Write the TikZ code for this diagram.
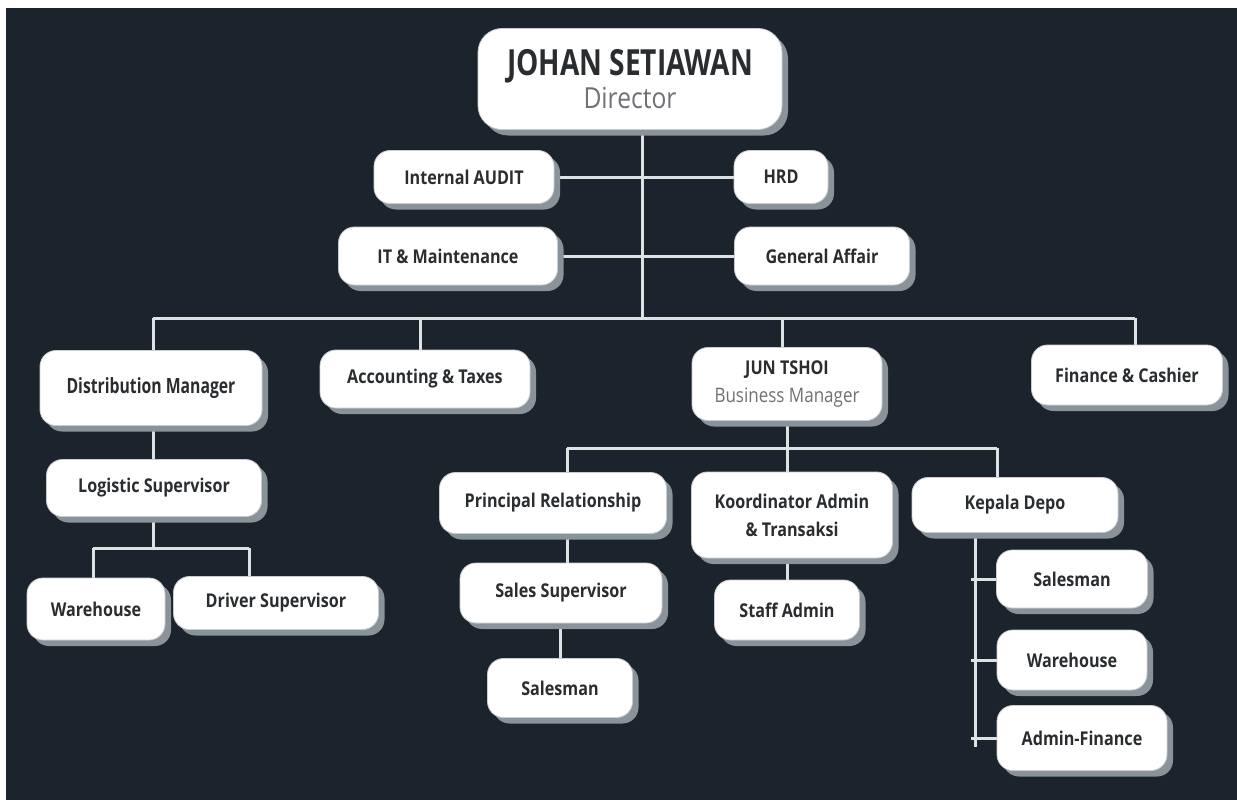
\documentclass[tikz,border=0pt]{standalone}
\usepackage{fontspec}
\usetikzlibrary{shadows}
\newfontfamily\lab[FakeStretch=0.85]{Open Sans}
\newfontfamily\labt[FakeStretch=0.78]{Open Sans}
\newfontfamily\labc[FakeStretch=0.75]{Open Sans}
\definecolor{bgdark}{HTML}{1B242C}
\definecolor{shadowc}{HTML}{8A939A}
\definecolor{txt}{HTML}{2A2D30}
\definecolor{subt}{HTML}{6E7276}
\definecolor{linec}{HTML}{DDE2E5}
\definecolor{edgec}{HTML}{C8CDD1}
\newcommand{\fsz}[2]{\fontsize{#1}{#2}\selectfont}
\pgfdeclarelayer{back}
\pgfdeclarelayer{lines}
\pgfsetlayers{back,lines,main}
\tikzset{
  orgbox/.style={rounded corners=16pt, fill=white, draw=edgec, line width=0.8pt,
    text=txt, align=center, inner sep=0pt, font=\lab\bfseries\fsz{19}{28},
    drop shadow={shadow xshift=6pt, shadow yshift=-6pt, fill=shadowc, opacity=1}},
  conn/.style={draw=linec, line width=3pt},
}
\begin{document}
\begin{tikzpicture}[x=1pt,y=-1pt]
\useasboundingbox (0,0) rectangle (1237,800);
\begin{pgfonlayer}{back}
\fill[white] (0,0) rectangle (1237,800);
\fill[bgdark] (6,8) rectangle (1237,800);
\end{pgfonlayer}

% nodes
\node[orgbox, minimum width=304pt, minimum height=101pt, rounded corners=24pt] (dir) at (630,79)
  {{\labt\bfseries\fsz{36}{40}JOHAN SETIAWAN}\\[3pt]{\lab\mdseries\color{subt}\fsz{29}{34}Director}};
\node[orgbox, minimum width=180pt, minimum height=53pt] (audit) at (464,177) {Internal AUDIT};
\node[orgbox, minimum width=94pt, minimum height=53pt] (hrd) at (781,177) {HRD};
\node[orgbox, minimum width=219pt, minimum height=58pt] (itm) at (448,256) {IT \& Maintenance};
\node[orgbox, minimum width=175pt, minimum height=58pt] (ga) at (822,256) {General Affair};

\node[orgbox, minimum width=222pt, minimum height=75pt, font=\labc\bfseries\fsz{21}{28}] (dm) at (151,388) {Distribution Manager};
\node[orgbox, minimum width=210pt, minimum height=58pt] (acc) at (425,379) {Accounting \& Taxes};
\node[orgbox, minimum width=190pt, minimum height=73pt] (jun) at (787,384)
  {JUN TSHOI\\{\mdseries\color{subt}\fsz{20}{28}Business Manager}};
\node[orgbox, minimum width=191pt, minimum height=60pt] (fin) at (1127,375) {Finance \& Cashier};

\node[orgbox, minimum width=215pt, minimum height=57pt] (ls) at (154,488) {Logistic Supervisor};
\node[orgbox, minimum width=138pt, minimum height=62pt] (wh1) at (96,609) {Warehouse};
\node[orgbox, minimum width=205pt, minimum height=53pt] (ds) at (276,603) {Driver Supervisor};

\node[orgbox, minimum width=227pt, minimum height=61pt] (pr) at (553,503) {Principal Relationship};
\node[orgbox, minimum width=201pt, minimum height=86pt] (ka) at (792,515) {Koordinator Admin\\\& Transaksi};
\node[orgbox, minimum width=206pt, minimum height=55pt] (kd) at (1015,505) {Kepala Depo};

\node[orgbox, minimum width=202pt, minimum height=60pt] (ss) at (561,593) {Sales Supervisor};
\node[orgbox, minimum width=145pt, minimum height=59pt] (sm1) at (560,688) {Salesman};
\node[orgbox, minimum width=145pt, minimum height=60pt] (sa) at (787,610) {Staff Admin};

\node[orgbox, minimum width=151pt, minimum height=58pt] (sm2) at (1072,579) {Salesman};
\node[orgbox, minimum width=150pt, minimum height=60pt] (wh2) at (1072,660) {Warehouse};
\node[orgbox, minimum width=170pt, minimum height=65pt] (af) at (1082,738) {Admin-Finance};

% bus coordinates
\coordinate (b0) at (642,318);
\coordinate (b1) at (153,318);
\coordinate (b2) at (420,318);
\coordinate (b3) at (782,318);
\coordinate (b4) at (1135,318);
\coordinate (l0) at (153,548);
\coordinate (l1) at (93,548);
\coordinate (l2) at (249,548);
\coordinate (j0) at (787,448);
\coordinate (j1) at (567,448);
\coordinate (j3) at (997,448);
\coordinate (kv) at (975,533);
\coordinate (kvb) at (975,747);

\begin{pgfonlayer}{lines}
\draw[conn] (dir.south -| b0) -- (b0);
\draw[conn] (audit.east) -- (hrd.west);
\draw[conn] (itm.east) -- (ga.west);
\draw[conn] (b1) -- (b4);
\draw[conn] (b1) -- (dm.north -| b1);
\draw[conn] (b2) -- (acc.north -| b2);
\draw[conn] (b3) -- (jun.north -| b3);
\draw[conn] (b4) -- (fin.north -| b4);
% distribution branch
\draw[conn] (dm.south -| l0) -- (ls.north -| l0);
\draw[conn] (ls.south -| l0) -- (l0);
\draw[conn] (l1) -- (l2);
\draw[conn] (l1) -- (wh1.north -| l1);
\draw[conn] (l2) -- (ds.north -| l2);
% business branch
\draw[conn] (jun.south -| j0) -- (j0);
\draw[conn] (j1) -- (j3);
\draw[conn] (j1) -- (pr.north -| j1);
\draw[conn] (j0) -- (ka.north -| j0);
\draw[conn] (j3) -- (kd.north -| j3);
\draw[conn] (pr.south -| j1) -- (ss.north -| j1);
\draw[conn] (ss.south -| sm1) -- (sm1.north);
\draw[conn] (ka.south -| sa) -- (sa.north);
% kepala depo
\draw[conn] (kd.south -| kv) -- (kvb);
\draw[conn] ([xshift=-4pt]kv |- sm2.west) -- (sm2.west);
\draw[conn] ([xshift=-4pt]kv |- wh2.west) -- (wh2.west);
\draw[conn] ([xshift=-4pt]kv |- af.west) -- (af.west);
\end{pgfonlayer}
\end{tikzpicture}
\end{document}
